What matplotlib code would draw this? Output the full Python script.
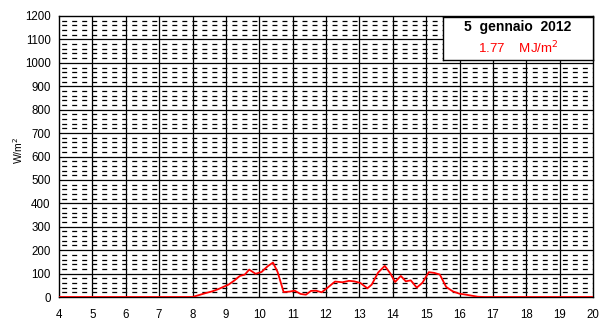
import matplotlib
matplotlib.use('Agg')
import matplotlib.pyplot as plt
import numpy as np

plt.rcParams['font.family'] = ['Liberation Sans', 'DejaVu Sans']

# solar irradiance, 5 Jan 2012 (hour of day, W/m2)
ore = [4.0, 8.0, 8.4, 8.59, 8.78, 9.08, 9.25, 9.42, 9.57, 9.7, 9.89, 10.07, 10.25, 10.41,
       10.55, 10.73, 10.91, 11.06, 11.24, 11.4, 11.55, 11.7, 11.87, 12.05, 12.27,
       12.49, 12.69, 12.84, 13.03, 13.24, 13.37, 13.56, 13.76, 13.93, 14.07, 14.24,
       14.39, 14.54, 14.72, 14.89, 15.08, 15.24, 15.41, 15.6, 15.8, 16.0, 16.15,
       16.35, 16.55, 16.75, 20.0]
irr = [0, 0, 17, 24, 34, 53, 70, 90, 96, 117, 99, 107, 131, 147,
       107, 21, 23, 27, 13, 10, 26, 27, 20, 40, 66,
       63, 69, 67, 60, 37, 53, 104, 133, 100, 64, 90,
       67, 71, 40, 61, 106, 103, 96, 43, 24, 14, 11,
       6, 1, 0, 0]
titolo = '5  gennaio  2012'
energia = '1.77    MJ/m$^2$'

W, H = 603, 325
fig = plt.figure(figsize=(W / 100, H / 100), dpi=100)
x0, x1, y0, y1 = 59, 593, 16, 297
ax = fig.add_axes([x0 / W, 1 - y1 / H, (x1 - x0) / W, (y1 - y0) / H])
ax.set_xlim(4, 20)
ax.set_ylim(0, 1200)

# dashed minor lines, three dashes per hour
px_h = (x1 - x0) / 16
per = px_h / 3
on = 5.5
k = 72 / 100
dash = ((per - 3) * k, (on * k, (per - on) * k))
for v in range(20, 1200, 20):
    if v % 100:
        ax.axhline(v, color='k', lw=0.9, linestyle=dash, zorder=1)
for v in range(100, 1200, 100):
    ax.axhline(v, color='k', lw=0.9, zorder=1)
for h in range(5, 20):
    ax.axvline(h, color='k', lw=0.9, zorder=1)

ax.plot(ore, irr, color='#ff0000', lw=1.3, zorder=3)

ax.set_xticks(range(4, 21))
ax.set_yticks(range(0, 1201, 100))
ax.tick_params(length=0, labelsize=8.3, pad=6)
ax.tick_params(axis='x', pad=9)
for s in ax.spines.values():
    s.set_linewidth(1)
fig.text(18 / W, 1 - 150 / H, 'W/m$^2$', fontsize=7.5, rotation=90,
         ha='center', va='center')

# title box
bx0, bx1, by0, by1 = 443, 593, 17, 60
box = fig.add_axes([bx0 / W, 1 - by1 / H, (bx1 - bx0) / W, (by1 - by0) / H])
box.set_xticks([])
box.set_yticks([])
box.set_facecolor('white')
for s in box.spines.values():
    s.set_linewidth(1)
box.text(0.5, 0.76, titolo, ha='center', va='center', fontsize=10, fontweight='bold',
         transform=box.transAxes)
box.text(0.5, 0.27, energia, ha='center', va='center', fontsize=9.6, color='#ff0000',
         transform=box.transAxes)

fig.savefig('out.png', dpi=100)
